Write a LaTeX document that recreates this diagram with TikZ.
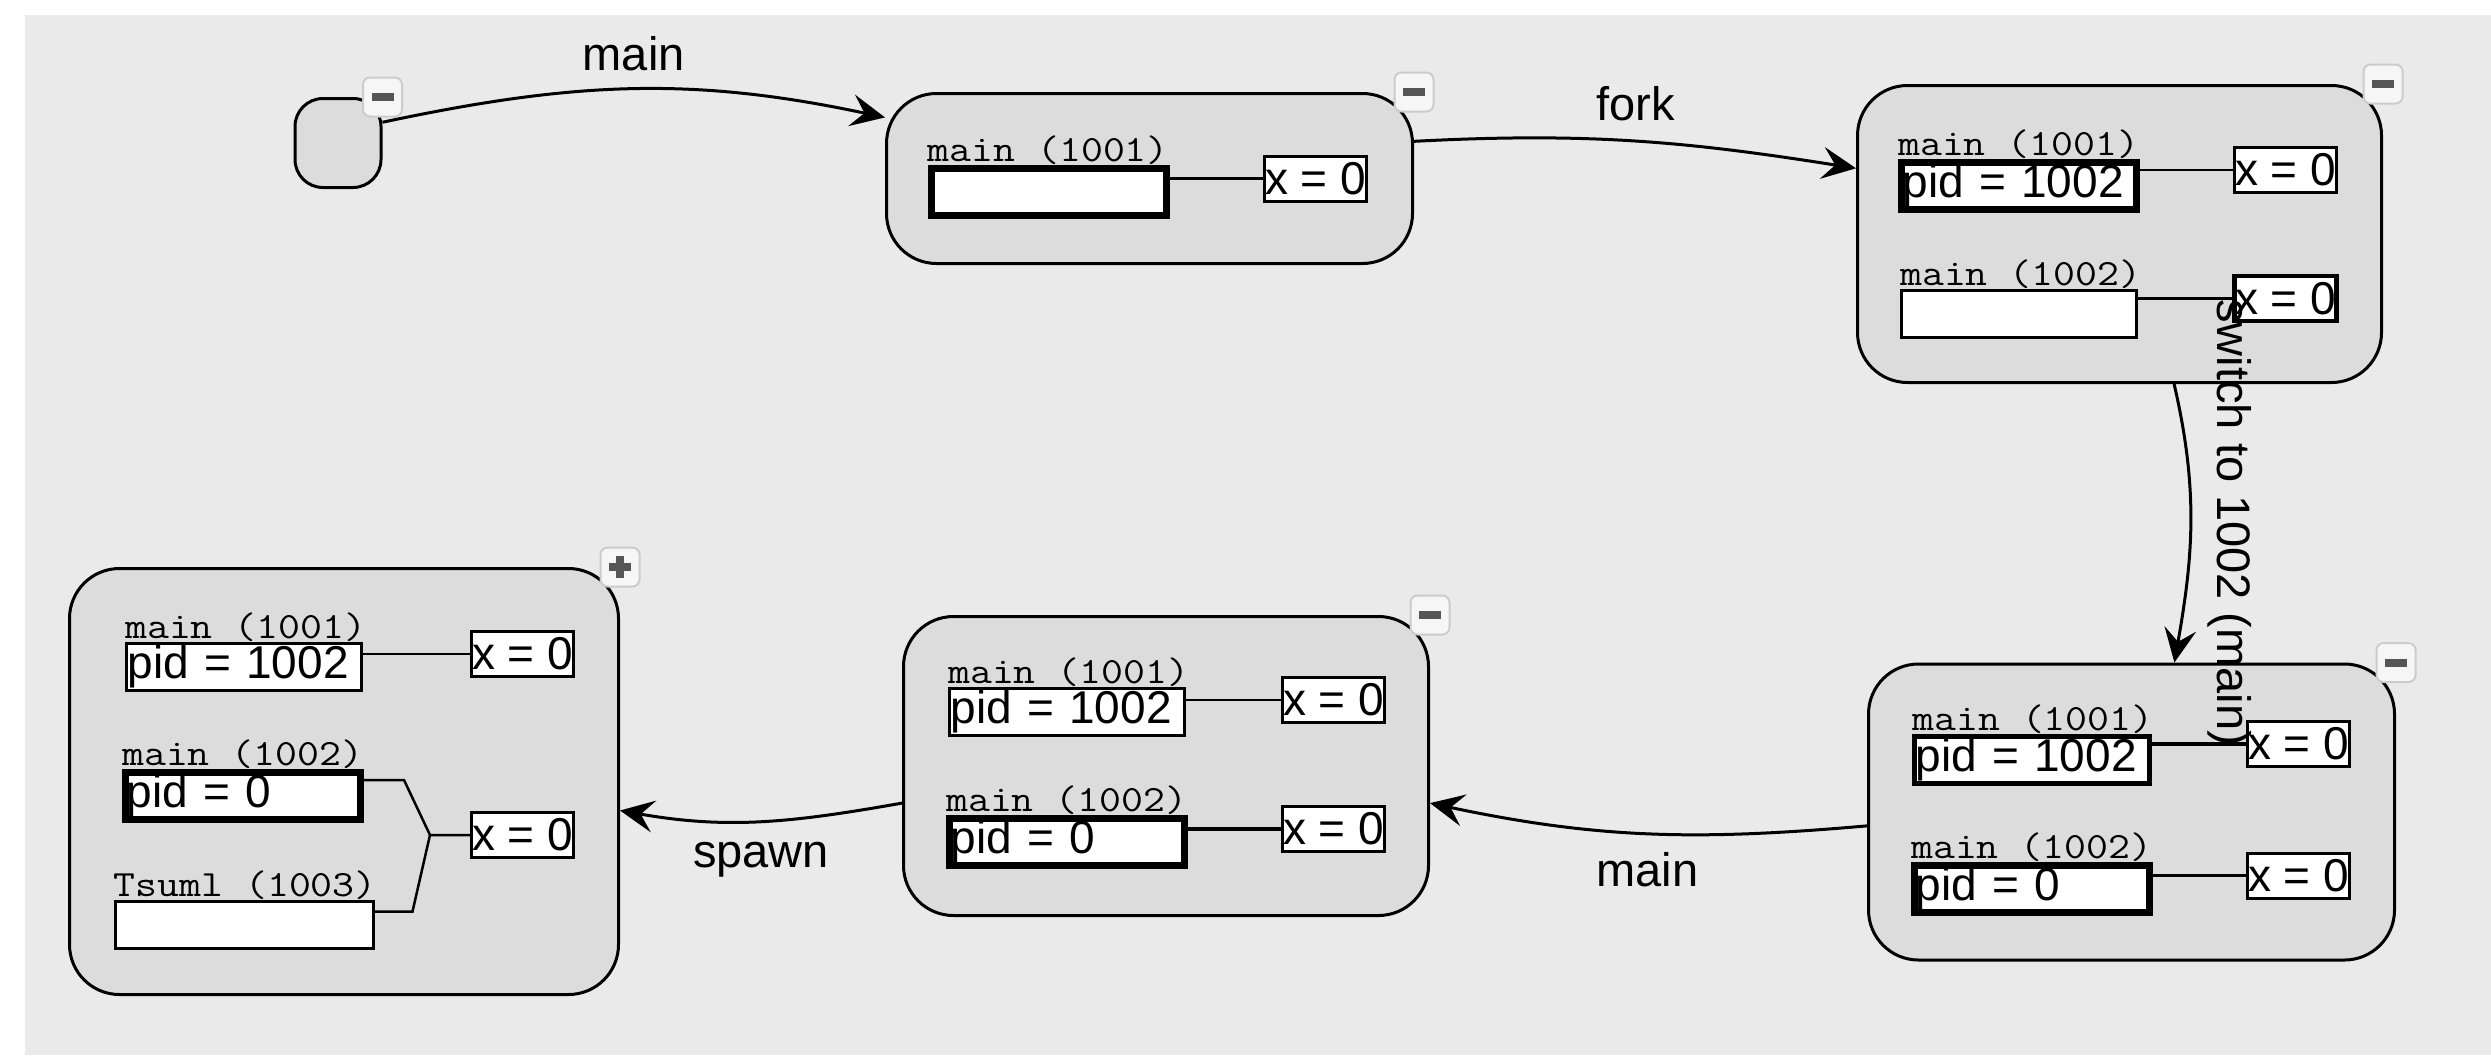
\documentclass[tikz,border=0pt]{standalone}
\usepackage{fontspec}
\setmainfont{Liberation Sans}
\usetikzlibrary{arrows.meta}

\definecolor{bggray}{HTML}{EAEAEA}
\definecolor{boxgray}{HTML}{DCDCDC}
\definecolor{btnfill}{HTML}{F6F6F6}
\definecolor{btnline}{HTML}{CCCCCC}
\definecolor{btnmark}{HTML}{555555}

\newcommand{\procname}[1]{\ttfamily\scalebox{1.15}[1]{#1}}

\begin{document}
\begin{tikzpicture}[
				x=1pt, y=1pt,
				state/.style={draw, fill=boxgray, line width=3pt, rounded corners=50pt, inner sep=0pt},
				field/.style={draw, fill=white, line width=3pt, minimum width=235pt, minimum height=47pt,
					inner sep=0pt, text width=233pt, align=left, font=\fontsize{46}{50}\selectfont},
				thickfield/.style={field, line width=7pt},
				xbox/.style={draw, fill=white, line width=3pt, minimum width=102pt, minimum height=45pt,
					inner sep=0pt, font=\fontsize{46}{50}\selectfont},
				proc/.style={anchor=south west, inner sep=0pt, font=\fontsize{37}{40}\selectfont},
				link/.style={line width=2.5pt},
				button/.style={draw=btnline, fill=btnfill, line width=2pt, rounded corners=7pt,
					minimum size=39pt, inner sep=0pt},
				trans/.style={line width=3pt, -{Stealth[length=34pt, width=32pt, inset=13pt]}},
				tlabel/.style={font=\fontsize{47}{52}\selectfont, inner sep=8pt}
				]
				% Page and background
				\useasboundingbox (0,0) rectangle (2491,-1055);
				\fill[white] (0,0) rectangle (2491,-1055);
				\fill[bggray] (25,-15) rectangle (2491,-1055);
				
				% States
				\node[state, rounded corners=28pt, minimum width=86pt, minimum height=89pt] (s0) at (338,-143) {};
				\node[state, minimum width=526pt, minimum height=170pt] (s1) at (1149.5,-178.5) {};
				\node[state, minimum width=524pt, minimum height=297pt] (s2) at (2119.5,-234) {};
				\node[state, minimum width=526pt, minimum height=296pt] (s3) at (2131.5,-812) {};
				\node[state, minimum width=525pt, minimum height=299pt] (s4) at (1166,-766) {};
				\node[state, minimum width=549pt, minimum height=426pt] (s5) at (344,-781.5) {};
				
				% State 1
				\node[thickfield] (s1p1) at (1048.5,-192) {};
				\node[xbox] (s1v1) at (1315.5,-178.5) {x = 0};
				\node[proc] (s1n1) at (s1p1.north west) {\procname{main (1001)}};
				\draw[link] (s1v1.west) -- (s1v1.west -| s1p1.east);
				
				% State 2
				\node[thickfield] (s2p1) at (2019,-186) {pid = 1002};
				\node[xbox] (s2v1) at (2285.5,-170) {x = 0};
				\node[field] (s2p2) at (2019,-313.5) {};
				\node[xbox, line width=4.5pt] (s2v2) at (2285.5,-298.5) {x = 0};
				\node[proc] (s2n1) at (s2p1.north west) {\procname{main (1001)}};
				\node[proc] (s2n2) at (s2p2.north west) {\procname{main (1002)}};
				\draw[link] (s2v1.west) -- (s2v1.west -| s2p1.east);
				\draw[link] (s2v2.west) -- (s2v2.west -| s2p2.east);
				
				% State 3
				\node[field, line width=4.5pt] (s3p1) at (2032,-760) {pid = 1002};
				\node[xbox] (s3v1) at (2298.5,-744) {x = 0};
				\node[thickfield] (s3p2) at (2032,-889) {pid = 0};
				\node[xbox] (s3v2) at (2298.5,-875.5) {x = 0};
				\node[proc] (s3n1) at (s3p1.north west) {\procname{main (1001)}};
				\node[proc] (s3n2) at (s3p2.north west) {\procname{main (1002)}};
				\draw[link, line width=3.5pt] (s3v1.west) -- (s3v1.west -| s3p1.east);
				\draw[link] (s3v2.west) -- (s3v2.west -| s3p2.east);
				
				% State 4
				\node[field] (s4p1) at (1067,-711.5) {pid = 1002};
				\node[xbox] (s4v1) at (1333.5,-700) {x = 0};
				\node[thickfield] (s4p2) at (1067,-842) {pid = 0};
				\node[xbox] (s4v2) at (1333.5,-828.5) {x = 0};
				\node[proc] (s4n1) at (s4p1.north west) {\procname{main (1001)}};
				\node[proc] (s4n2) at (s4p2.north west) {\procname{main (1002)}};
				\draw[link] (s4v1.west) -- (s4v1.west -| s4p1.east);
				\draw[link, line width=4pt] (s4v2.west) -- (s4v2.west -| s4p2.east);
				
				% State 5
				\node[field] (s5p1) at (244,-666.5) {pid = 1002};
				\node[xbox] (s5v1) at (522.5,-654) {x = 0};
				\node[thickfield] (s5p2) at (243,-796) {pid = 0};
				\node[field, minimum width=258pt] (s5p3) at (244,-924.5) {};
				\node[xbox] (s5v2) at (522.5,-835) {x = 0};
				\node[proc] (s5n1) at (s5p1.north west) {\procname{main (1001)}};
				\node[proc] (s5n2) at (s5p2.north west) {\procname{main (1002)}};
				\node[proc] (s5n3) at (s5p3.north west) {\procname{Tsuml (1003)}};
				\coordinate (s5j) at (430,-835);
				\draw[link] (s5v1.west) -- (s5v1.west -| s5p1.east);
				\draw[link] ([yshift=16pt]s5p2.east) -- ++(40,0) -- (s5j) -- (s5v2.west);
				\draw[link] ([yshift=13pt]s5p3.east) -- ++(38,0) -- (s5j);
				
				% Transitions
				\draw[trans] (s0.25) to[out=12, in=168] node[tlabel, midway, above=9pt] {main} (s1.167);
				\draw[trans] (s1.8) to[out=3, in=171] node[tlabel, midway, above=11pt] {fork} (s2.166);
				\draw[trans] (s2.-70) to[out=-77, in=80]
					node[tlabel, midway, rotate=-90, anchor=south, inner sep=16pt] {switch to 1002 (main)} (s3.74);
				\draw[trans] (s3.183) to[out=185, in=-12] node[tlabel, midway, below=10pt] {main} (s4.-8);
				\draw[trans] (s4.188) to[out=190, in=-10] node[tlabel, midway, below=12pt] {spawn} (s5.-6);
				
				% Collapse buttons
				\foreach \s in {s0,s1,s2,s3,s4} {
					\node[button] (\s btn) at (\s.north east) {};
					\fill[btnmark] ([xshift=-11pt, yshift=-4pt]\s btn.center) rectangle ([xshift=11pt, yshift=4pt]\s btn.center);
				}
				\node[button] (s5btn) at (s5.north east) {};
				\fill[btnmark] ([xshift=-11pt, yshift=-4pt]s5btn.center) rectangle ([xshift=11pt, yshift=4pt]s5btn.center);
				\fill[btnmark] ([xshift=-4pt, yshift=-11pt]s5btn.center) rectangle ([xshift=4pt, yshift=11pt]s5btn.center);
			\end{tikzpicture}
\end{document}
